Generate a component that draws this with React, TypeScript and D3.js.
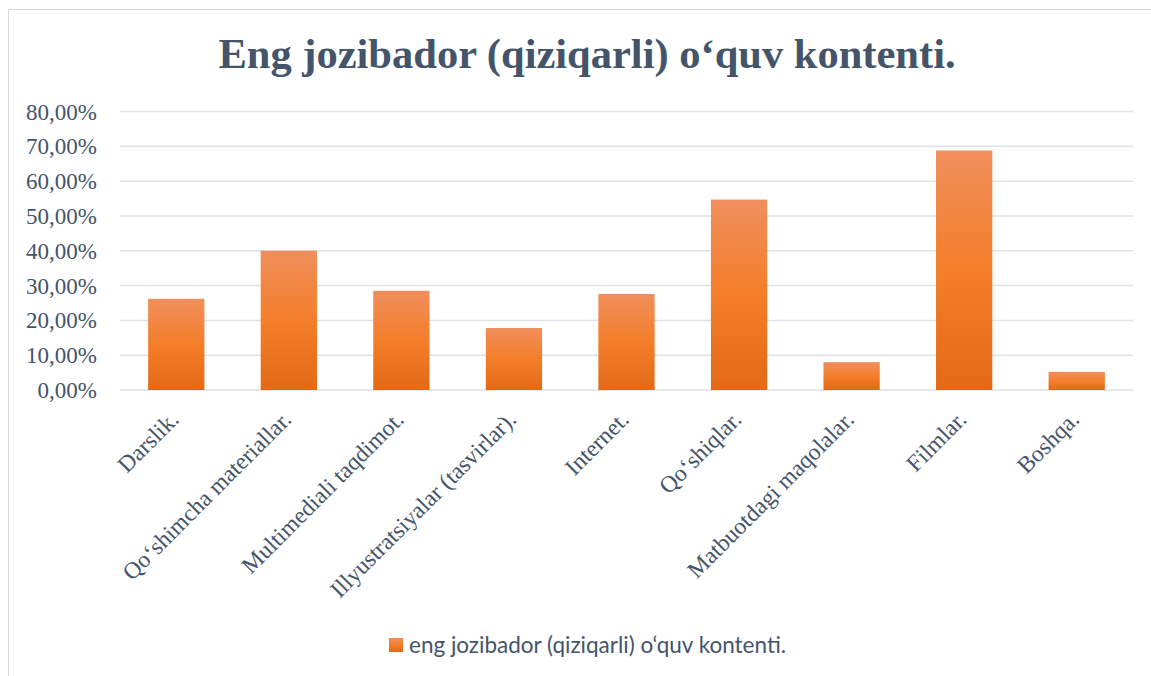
import React from "react";
import * as d3 from "d3";

const categories = [
  "Darslik.",
  "Qo‘shimcha materiallar.",
  "Multimediali taqdimot.",
  "Illyustratsiyalar (tasvirlar).",
  "Internet.",
  "Qo‘shiqlar.",
  "Matbuotdagi maqolalar.",
  "Filmlar.",
  "Boshqa.",
];
const values = [26.2, 40.0, 28.5, 17.8, 27.6, 54.7, 8.0, 68.8, 5.2];
const yTicks = [0, 10, 20, 30, 40, 50, 60, 70, 80];
const title = "Eng jozibador (qiziqarli) o‘quv kontenti.";
const seriesName = "eng jozibador (qiziqarli) o‘quv kontenti.";

const W = 1151;
const H = 676;
const textColor = "#44546A";

export default function App() {
  const x = d3.scaleBand<string>().domain(categories).range([120, 1133]).paddingInner(0.5).paddingOuter(0.25);
  const y = d3.scaleLinear().domain([0, 80]).range([390, 111.5]);
  const fmt = (v: number) => v.toFixed(2).replace(".", ",") + "%";
  const xFont = 23.5;

  return (
    <svg width={W} height={H} style={{ position: "absolute", left: 0, top: 0, background: "#fff" }}>
      <defs>
        <linearGradient id="barGrad" x1="0" y1="0" x2="0" y2="1">
          <stop offset="0" stopColor="#F08E5C" />
          <stop offset="0.5" stopColor="#F47E2A" />
          <stop offset="1" stopColor="#E36916" />
        </linearGradient>
      </defs>
      <rect x={8.5} y={9.5} width={W} height={H} fill="#fff" stroke="#D9D9D9" strokeWidth={1} />
      <text x={587} y={68} textAnchor="middle" fontFamily="'Liberation Serif', serif" fontWeight="bold" fontSize={42.5} fill={textColor}>
        {title}
      </text>
      {yTicks.map((t) => (
        <g key={t}>
          <line x1={120} x2={1133} y1={y(t)} y2={y(t)} stroke="#DDE2E8" strokeWidth={1.5} />
          <text x={97} y={y(t)} dy="0.35em" textAnchor="end" fontFamily="'Liberation Serif', serif" fontSize={23} fill={textColor}>
            {fmt(t)}
          </text>
        </g>
      ))}
      {categories.map((c, i) => (
        <rect key={c} x={x(c)} y={y(values[i])} width={x.bandwidth()} height={y(0) - y(values[i])} fill="url(#barGrad)" />
      ))}
      {categories.map((c) => {
        const cx = (x(c) as number) + x.bandwidth() / 2;
        return (
          <text
            key={c}
            transform={`translate(${cx - 2},${415}) rotate(-45)`}
            textAnchor="end"
            dy="0.35em"
            fontFamily="'Liberation Serif', serif"
            fontSize={xFont}
            fill={textColor}
          >
            {c}
          </text>
        );
      })}
      <rect x={389} y={638} width={14} height={14} fill="url(#barGrad)" />
      <text x={409} y={653} fontFamily="Lato, sans-serif" fontSize={22.5} fill={textColor}>
        {seriesName}
      </text>
    </svg>
  );
}
